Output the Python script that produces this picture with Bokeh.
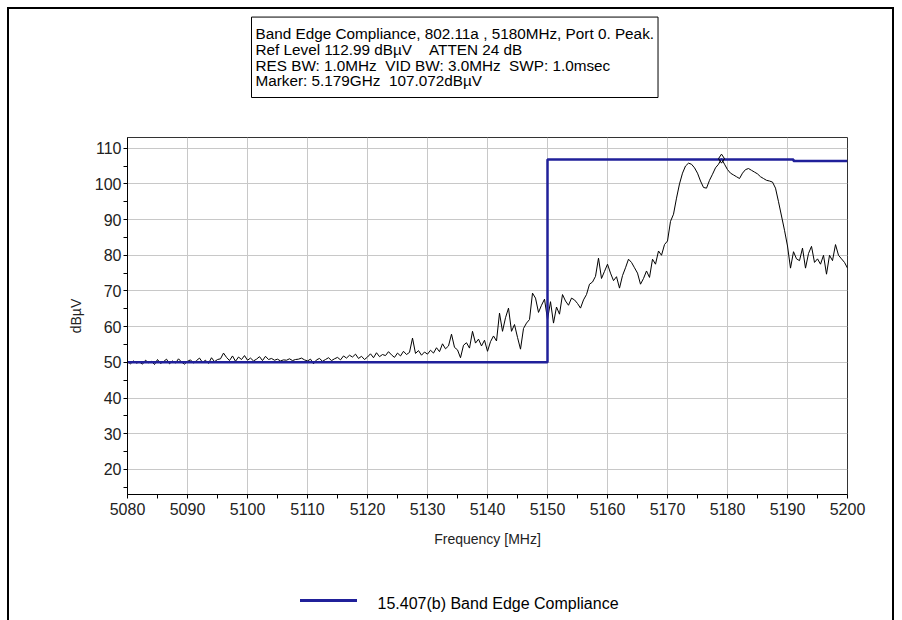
from bokeh.plotting import figure
from bokeh.models import Title, FixedTicker, Range1d
from bokeh.embed import file_html
from bokeh.resources import INLINE

# ---------------- data ----------------
freq_start = 5080.0
freq_step = 0.5
trace_level = [
    # 5080.0 - 5084.5
    50.2, 49.6, 50.4, 49.8, 50.1, 49.5, 50.6, 49.9, 50.3, 49.4,
    # 5085.0 - 5089.5
    50.8, 49.7, 50.2, 50.9, 49.6, 50.4, 49.8, 51.0, 50.1, 49.5,
    # 5090.0 - 5094.5
    50.3, 50.7, 49.8, 50.5, 51.2, 50.0, 50.6, 49.7, 51.3, 50.2,
    # 5095.0 - 5099.5
    50.8, 51.0, 52.6, 51.4, 50.5, 51.8, 50.3, 51.5, 50.8, 51.9,
    # 5100.0 - 5104.5
    50.6, 51.2, 50.4, 50.9, 51.6, 50.5, 51.7, 50.8, 51.1, 50.6,
    # 5105.0 - 5109.5
    50.9, 50.4, 50.7, 50.6, 51.0, 50.5, 50.8, 50.9, 51.2, 50.7,
    # 5110.0 - 5114.5
    50.4, 50.9, 49.6, 50.7, 51.1, 50.3, 50.8, 51.3, 50.5, 51.0,
    # 5115.0 - 5119.5
    51.4, 50.7, 51.8, 51.2, 52.0, 51.5, 52.3, 51.1, 51.7, 50.8,
    # 5120.0 - 5124.5
    51.5, 52.4, 51.3, 52.7, 51.6, 52.2, 51.9, 53.0, 52.1, 51.4,
    # 5125.0 - 5129.5
    52.6, 51.8, 53.1, 52.2, 52.8, 56.8, 52.5, 53.3, 52.0, 52.9,
    # 5130.0 - 5134.5
    52.3, 53.4, 52.6, 54.1, 53.0, 55.2, 53.8, 54.6, 57.9, 54.2,
    # 5135.0 - 5139.5
    53.5, 51.3, 54.8, 55.5, 54.0, 58.7, 55.4, 56.5, 54.6, 56.2,
    # 5140.0 - 5144.5
    53.1, 55.8, 57.4, 56.0, 63.8, 58.7, 62.5, 65.2, 58.7, 60.6,
    # 5145.0 - 5149.5
    57.0, 53.7, 59.5, 61.0, 62.0, 69.4, 68.0, 64.0, 66.0, 67.7,
    # 5150.0 - 5154.5
    62.0, 67.0, 61.0, 65.5, 63.5, 69.0, 67.2, 66.0, 68.0, 67.5,
    # 5155.0 - 5159.5
    66.5, 65.2, 67.5, 69.0, 71.9, 72.5, 74.1, 79.2, 73.5, 75.5,
    # 5160.0 - 5164.5
    77.5, 75.0, 72.9, 74.0, 70.8, 74.3, 76.5, 78.9, 78.0, 76.5,
    # 5165.0 - 5169.5
    75.0, 71.9, 73.5, 75.6, 73.8, 78.9, 77.5, 81.2, 80.0, 83.0,
    # 5170.0 - 5174.5
    84.0, 89.5, 91.5, 96.0, 100.0, 103.0, 105.0, 105.8, 105.5, 104.5,
    # 5175.0 - 5179.5
    103.0, 100.8, 99.0, 98.8, 101.0, 102.7, 104.5, 105.5, 107.07, 105.5,
    # 5180.0 - 5184.5
    104.0, 103.0, 102.5, 102.0, 101.5, 103.0, 104.0, 104.3, 103.8, 103.3,
    # 5185.0 - 5189.5
    102.8, 102.0, 101.5, 101.0, 100.8, 100.5, 98.8, 95.0, 91.0, 87.0,
    # 5190.0 - 5194.5
    82.6, 76.4, 81.0, 79.0, 78.5, 82.0, 76.4, 80.5, 82.5, 78.0,
    # 5195.0 - 5199.5
    79.0, 77.5, 80.0, 74.7, 80.0, 78.5, 83.0, 80.0, 79.0, 78.0,
    # 5200.0
    76.4,
]
trace_freq = [freq_start + freq_step * i for i in range(len(trace_level))]

limit_freq = [5080, 5150, 5150, 5191, 5191, 5200]
limit_level = [50.0, 50.0, 106.8, 106.8, 106.4, 106.4]

marker_freq = [5179.0]
marker_level = [107.072]

x_ticks = [5080, 5090, 5100, 5110, 5120, 5130, 5140, 5150, 5160, 5170, 5180, 5190, 5200]
x_minor = [5085, 5095, 5105, 5115, 5125, 5135, 5145, 5155, 5165, 5175, 5185, 5195]
y_ticks = [20, 30, 40, 50, 60, 70, 80, 90, 100, 110]
y_minor = [15, 25, 35, 45, 55, 65, 75, 85, 95, 105]

NB = "\u00a0"  # keeps the runs of spaces of the original header
header_lines = [
    "Band Edge Compliance, 802.11a , 5180MHz, Port 0. Peak.",
    "Ref Level 112.99 dB\u00b5V" + NB * 4 + "ATTEN 24 dB",
    "RES BW: 1.0MHz" + NB * 2 + "VID BW: 3.0MHz" + NB * 2 + "SWP: 1.0msec",
    "Marker: 5.179GHz" + NB * 2 + "107.072dB\u00b5V",
]
legend_label = "15.407(b) Band Edge Compliance"

# ---------------- figure ----------------
FONT = "Liberation Sans"
LIMIT_COLOR = "#20209a"
W, H = 902, 620
ML, MR, MT, MB = 127, 55, 137, 126   # frame at x 127..847, y 137..494

p = figure(width=W, height=H, output_backend="svg", toolbar_location=None,
           x_range=Range1d(5080, 5200), y_range=Range1d(12.99, 112.99),
           min_border_left=ML, min_border_right=MR,
           min_border_top=MT, min_border_bottom=MB)

# page frame lines and the legend's sample line, painted behind the
# (transparent) canvas border area
black = "linear-gradient(#000,#000)"
navy = f"linear-gradient({LIMIT_COLOR},{LIMIT_COLOR})"
p.styles = {
    "background-color": "white",
    "background-image": ", ".join([black, black, black, navy]),
    "background-size": "2px 613px, 887px 2px, 2px 613px, 57px 3px",
    "background-position": "7px 7px, 7px 7px, 892px 7px, 300px 599px",
    "background-repeat": "no-repeat",
}

p.background_fill_color = "white"
p.border_fill_alpha = 0
p.outline_line_color = "#333333"
p.outline_line_width = 1

p.xgrid.grid_line_color = "#c8c8c8"
p.ygrid.grid_line_color = "#c8c8c8"
p.xgrid.grid_line_width = 1
p.ygrid.grid_line_width = 1

p.xaxis.ticker = FixedTicker(ticks=x_ticks, minor_ticks=x_minor)
p.yaxis.ticker = FixedTicker(ticks=y_ticks, minor_ticks=y_minor)

for ax in (p.xaxis[0], p.yaxis[0]):
    ax.axis_line_color = "black"
    ax.axis_line_width = 1
    ax.major_tick_line_color = "black"
    ax.minor_tick_line_color = "black"
    ax.major_tick_in = 0
    ax.major_tick_out = 4
    ax.minor_tick_in = 0
    ax.minor_tick_out = 4
    ax.major_label_text_font = FONT
    ax.major_label_text_font_size = "16px"
    ax.major_label_text_color = "#222222"
    ax.axis_label_text_font = FONT
    ax.axis_label_text_font_size = "14px"
    ax.axis_label_text_font_style = "normal"
    ax.axis_label_text_color = "#222222"

p.xaxis.axis_label = "Frequency [MHz]"
p.yaxis.axis_label = "dB\u00b5V"
p.xaxis.major_label_standoff = 4
p.yaxis.major_label_standoff = 2
p.xaxis.axis_label_standoff = 13
p.yaxis.axis_label_standoff = 8

# trace
p.line(trace_freq, trace_level, line_color="black", line_width=1)
# limit
p.line(limit_freq, limit_level, line_color=LIMIT_COLOR, line_width=2.5)
# marker
p.scatter(marker_freq, marker_level, marker="diamond", size=9,
          fill_color=None, line_color="black", line_width=1)

# gap between plot frame and header box
p.add_layout(Title(text=" ", text_font_size="1px", standoff=37), "above")
# header box (above the plot)
header = Title(text="\n".join(header_lines), align="left", offset=124,
               vertical_align="bottom", standoff=0,
               text_font=FONT, text_font_size="15.3px", text_font_style="normal",
               text_color="black", text_line_height=0.93, padding=(4, 8),
               border_line_color="black", border_line_width=1,
               background_fill_color="white")
p.add_layout(header, "above")

# gap between the x axis and the legend row
p.add_layout(Title(text=" ", text_font_size="1px", standoff=40), "below")
# legend label
legend_title = Title(text=legend_label, align="left", offset=250,
                     vertical_align="bottom", standoff=0,
                     text_font=FONT, text_font_size="16px",
                     text_font_style="normal", text_color="black")
p.add_layout(legend_title, "below")

open("out.html", "w").write(file_html(p, INLINE))
